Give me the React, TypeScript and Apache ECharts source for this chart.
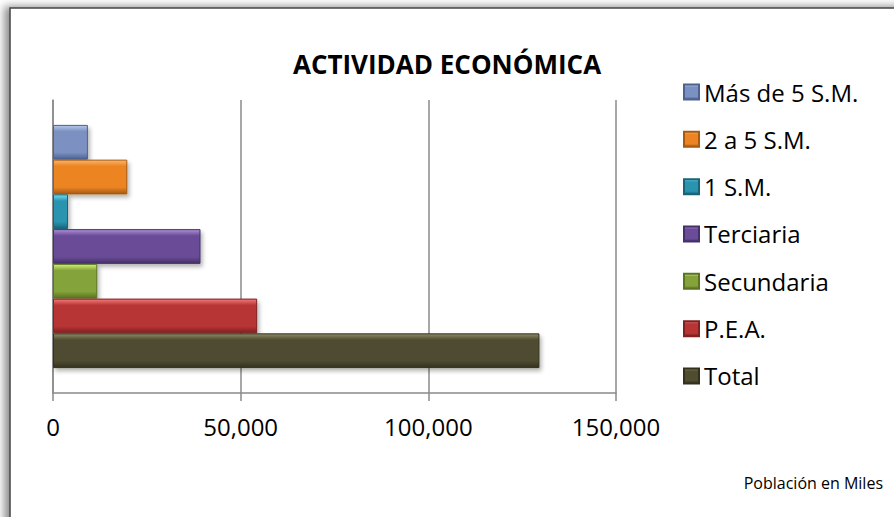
import React, { useEffect, useRef } from "react";
import * as echarts from "echarts";

// ---- data ----
const categories: string[] = [
  "Más de 5 S.M.",
  "2 a 5 S.M.",
  "1 S.M.",
  "Terciaria",
  "Secundaria",
  "P.E.A.",
  "Total",
];
const values: number[] = [9300, 19800, 4000, 39300, 11800, 54400, 129600];
const xTicks: number[] = [0, 50000, 100000, 150000];
const titleText = "ACTIVIDAD ECONÓMICA";
const noteText = "Población en Miles";

// ---- styles ----
const palette: { light: string; base: string; dark: string }[] = [
  { light: "#b4c8ec", base: "#7b91c1", dark: "#4d6290" },
  { light: "#fdb568", base: "#ec8424", dark: "#a85a10" },
  { light: "#6fe0f4", base: "#2a93b0", dark: "#1a6378" },
  { light: "#ad90d8", base: "#6b4c98", dark: "#45306a" },
  { light: "#d2f07a", base: "#85a33a", dark: "#5a7420" },
  { light: "#f57a7a", base: "#b83535", dark: "#802020" },
  { light: "#8e8a66", base: "#4f4c30", dark: "#33311d" },
];

function grad(c: { light: string; base: string; dark: string }) {
  return new echarts.graphic.LinearGradient(0, 0, 0, 1, [
    { offset: 0, color: c.light },
    { offset: 0.18, color: c.base },
    { offset: 0.8, color: c.base },
    { offset: 1, color: c.dark },
  ]);
}

export default function App() {
  const ref = useRef<HTMLDivElement>(null);

  useEffect(() => {
    if (!ref.current) return;
    const chart = echarts.init(ref.current, undefined, { renderer: "svg" });
    const font = "'Open Sans', 'DejaVu Sans', sans-serif";

    const series = categories.map((name, i) => ({
      name,
      type: "bar" as const,
      data: [values[i]],
      barGap: "0%",
      barCategoryGap: "17%",
      itemStyle: {
        color: grad(palette[i]),
        borderColor: palette[i].dark,
        borderWidth: 1,
        shadowBlur: 4,
        shadowOffsetX: 2,
        shadowOffsetY: 3,
        shadowColor: "rgba(0,0,0,0.3)",
      },
    }));

    chart.setOption({
      animation: false,
      backgroundColor: "#ffffff",
      textStyle: { fontFamily: font },
      title: {
        text: titleText,
        left: "center",
        top: 46,
        textStyle: {
          fontFamily: font,
          fontWeight: "bold",
          fontSize: 26,
          color: "#000000",
        },
      },
      legend: {
        data: categories,
        orient: "vertical",
        left: 683,
        top: 77,
        padding: 0,
        itemWidth: 15,
        itemHeight: 15,
        itemGap: 17.33,
        icon: "rect",
        textStyle: {
          fontFamily: font,
          fontSize: 24,
          lineHeight: 30,
          color: "#000000",
        },
      },
      grid: {
        left: 53,
        top: 100,
        width: 563,
        height: 293,
        containLabel: false,
      },
      xAxis: {
        type: "value",
        min: xTicks[0],
        max: xTicks[xTicks.length - 1],
        interval: xTicks[1] - xTicks[0],
        axisLine: { show: true, lineStyle: { color: "#8a8a8a", width: 1.5 } },
        axisTick: { show: true, length: 8, lineStyle: { color: "#8a8a8a", width: 1.5 } },
        splitLine: { show: true, lineStyle: { color: "#8a8a8a", width: 1.5 } },
        axisLabel: {
          margin: 21,
          fontFamily: font,
          fontSize: 24,
          color: "#000000",
          formatter: (v: number) => v.toLocaleString("en-US"),
        },
      },
      yAxis: {
        type: "category",
        data: [""],
        axisLine: { show: true, lineStyle: { color: "#8a8a8a", width: 1.5 } },
        axisTick: { show: false },
        axisLabel: { show: false },
      },
      graphic: [
        {
          type: "rect",
          z: -10,
          shape: { x: 10, y: 8, width: 950, height: 600 },
          style: {
            fill: "#ffffff",
            stroke: "#444444",
            lineWidth: 1.5,
            shadowBlur: 8,
            shadowOffsetX: -5,
            shadowOffsetY: -1,
            shadowColor: "rgba(0,0,0,0.45)",
          },
        },
        {
          type: "text",
          right: 11,
          top: 475,
          style: {
            text: noteText,
            fontFamily: font,
            fontSize: 16,
            fill: "#000000",
          },
        },
      ],
      series,
    });

    return () => chart.dispose();
  }, []);

  return (
    <div
      ref={ref}
      style={{ position: "absolute", left: 0, top: 0, width: 894, height: 517 }}
    />
  );
}
